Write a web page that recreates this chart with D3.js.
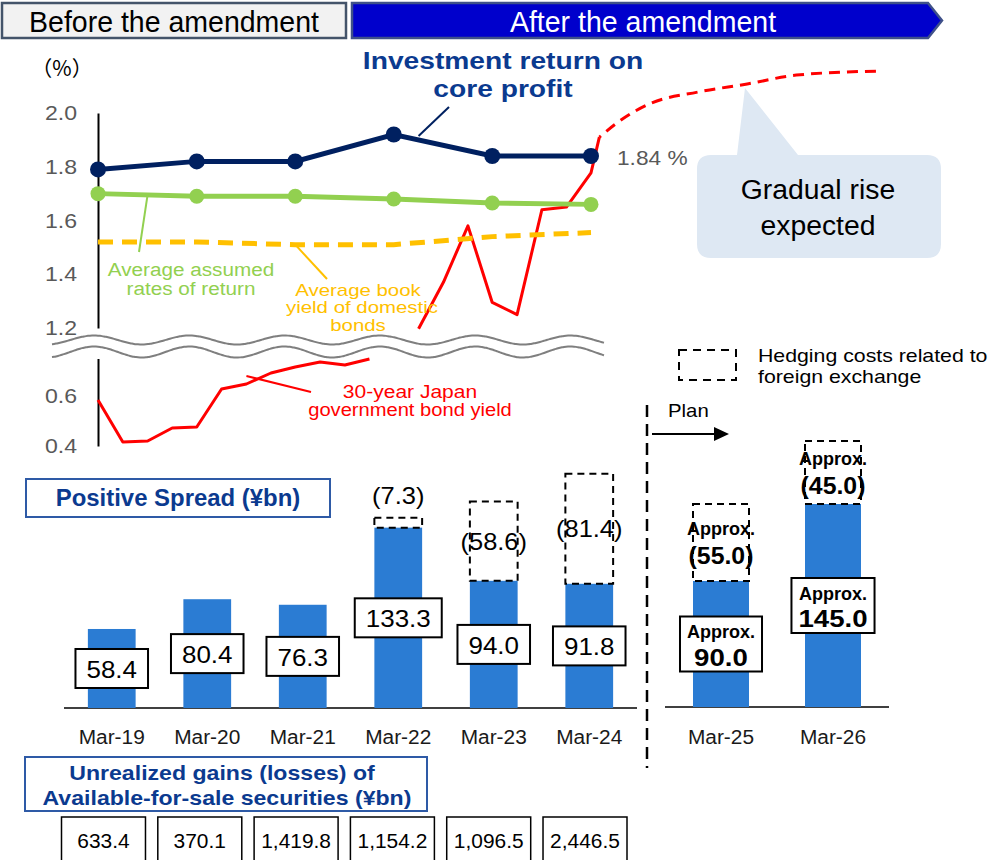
<!DOCTYPE html>
<html>
<head>
<meta charset="utf-8">
<script src="https://cdn.jsdelivr.net/npm/d3@7"></script>
<style>
  html, body { margin: 0; padding: 0; background: #fff; }
  svg { display: block; font-family: Arial, "Liberation Sans", sans-serif; }
</style>
</head>
<body>
<svg id="chart" width="992" height="860"></svg>
<script>
// ---------- data ----------
const fiscalMonths = ["2019-03", "2020-03", "2021-03", "2022-03", "2023-03", "2024-03"];
const yearLabels = ["Mar-19", "Mar-20", "Mar-21", "Mar-22", "Mar-23", "Mar-24"];
const planLabels = ["Mar-25", "Mar-26"];

// yields (%)
const coreReturn  = [1.79, 1.82, 1.82, 1.92, 1.84, 1.84];
const assumedRate = [1.70, 1.69, 1.69, 1.68, 1.665, 1.66];
const bookYield   = [1.52, 1.52, 1.51, 1.51, 1.54, 1.555];

// 30-year JGB yield; the quarter that falls inside the axis break is left out
const jgbMonths = ["2019-03", "2019-06", "2019-09", "2019-12", "2020-03", "2020-06", "2020-09",
  "2020-12", "2021-03", "2021-06", "2021-09", "2021-12", "2022-03", "2022-06", "2022-09",
  "2022-12", "2023-03", "2023-06", "2023-09", "2023-12", "2024-03", "2024-04"];
const jgb30 = [0.584, 0.416, 0.42, 0.472, 0.476, 0.628, 0.648, 0.692, 0.716, 0.736, 0.724,
  0.748, null, 1.19, 1.37, 1.58, 1.295, 1.25, 1.64, 1.65, 1.777, 1.91];

// expected path of the 30-year yield
const outlookMonths = ["2024-04", "2024-06", "2024-10", "2025-04", "2025-10", "2026-04", "2027-02"];
const outlook = [1.91, 1.96, 2.033, 2.078, 2.108, 2.141, 2.156];

const upperTicks = [1.2, 1.4, 1.6, 1.8, 2.0];
const lowerTicks = [0.4, 0.6];

// positive spread (¥bn)
const spread    = [58.4, 80.4, 76.3, 133.3, 94.0, 91.8];
const hedgeCost = [null, null, null, 7.3, 58.6, 81.4];
const planSpread = [90.0, 145.0];
const planHedge  = [55.0, 45.0];

// unrealized gains (losses) of available-for-sale securities (¥bn)
const unrealized = [633.4, 370.1, 1419.8, 1154.2, 1096.5, 2446.5];

// ---------- helpers ----------
const svg = d3.select("#chart");
const parseM = d3.timeParse("%Y-%m");
const NAVY = "#002060", GREEN = "#92D050", GOLD = "#FFC000", RED = "#FF0000";
const TITLE_BLUE = "#0b3a8f", BAR = "#2B7CD3";

function txt(sel, x, y, str, o = {}) {
  const t = sel.append("text")
    .attr("x", x).attr("y", y)
    .attr("font-size", o.size || 18)
    .attr("fill", o.fill || "#000")
    .attr("text-anchor", o.anchor || "middle")
    .attr("dominant-baseline", "central")
    .text(str);
  if (o.weight) t.attr("font-weight", o.weight);
  if (o.family) t.attr("font-family", o.family);
  if (o.sx) stretch(t, o.sx);
  return t;
}
// widen/narrow a text run horizontally
function stretch(t, sx) {
  t.each(function () {
    const w = this.getComputedTextLength();
    d3.select(this).attr("textLength", w * sx).attr("lengthAdjust", "spacingAndGlyphs");
  });
}
function textWidth(t) {
  const n = t.node();
  const tl = n.getAttribute("textLength");
  return tl ? +tl : n.getComputedTextLength();
}

// ---------- header ----------
const header = svg.append("g");
header.append("rect").attr("x", 2).attr("y", 3).attr("width", 344).attr("height", 35)
  .attr("fill", "#F2F2F2").attr("stroke", "#44546A").attr("stroke-width", 2.5);
txt(header, 174, 21.5, "Before the amendment", { size: 30, sx: 0.95 });
header.append("path")
  .attr("d", "M352,3 L928,3 L942,20.5 L928,38 L352,38 Z")
  .attr("fill", "#0000CC").attr("stroke", "#3F5189").attr("stroke-width", 2.5);
txt(header, 643, 21.5, "After the amendment", { size: 30, fill: "#fff", sx: 0.95 });

// ---------- yield chart ----------
const x = d3.scaleTime()
  .domain([parseM(fiscalMonths[0]), parseM(fiscalMonths[5])])
  .range([98, 591]);
// broken axis: lower 0.4–0.75 and upper 1.2–2.0 on one piecewise scale
const y = d3.scaleLinear()
  .domain([0.4, 0.75, 1.2, 2.0])
  .range([446, 358.5, 328, 113]);

const yieldG = svg.append("g");

// axes
function styleAxis(g) {
  g.select(".domain").attr("stroke", "#000").attr("stroke-width", 2);
  g.selectAll(".tick text").attr("font-size", 21).attr("fill", "#595959")
    .attr("font-family", "Arial, 'Liberation Sans', sans-serif")
    .each(function () { stretch(d3.select(this), 1.1); });
}
yieldG.append("g").attr("transform", "translate(98,0)")
  .call(d3.axisLeft(d3.scaleLinear().domain([1.2, 2.0]).range([y(1.2), y(2.0)]))
    .tickValues(upperTicks).tickSize(0).tickSizeOuter(0).tickPadding(21).tickFormat(d3.format(".1f")))
  .call(styleAxis);
yieldG.append("g").attr("transform", "translate(98,0)")
  .call(d3.axisLeft(d3.scaleLinear().domain([0.4, 0.75]).range([y(0.4), y(0.75)]))
    .tickValues(lowerTicks).tickSize(0).tickSizeOuter(0).tickPadding(21).tickFormat(d3.format(".1f")))
  .call(styleAxis);

txt(yieldG, 62, 67, "（%）", { size: 21, fill: "#000", family: "'Noto Sans CJK JP', Arial, sans-serif" });

const annual = fiscalMonths.map(parseM);
const lineGen = d3.line().x(d => x(d[0])).y(d => y(d[1]));

// 30-year JGB (two runs, one on each side of the break)
yieldG.append("path")
  .datum(jgbMonths.map((m, i) => [parseM(m), jgb30[i]]))
  .attr("d", d3.line().defined(d => d[1] != null).x(d => x(d[0])).y(d => y(d[1])))
  .attr("fill", "none").attr("stroke", RED).attr("stroke-width", 3)
  .attr("stroke-linejoin", "round");
yieldG.append("path")
  .datum(outlookMonths.map((m, i) => [parseM(m), outlook[i]]))
  .attr("d", d3.line().x(d => x(d[0])).y(d => y(d[1])).curve(d3.curveMonotoneX))
  .attr("fill", "none").attr("stroke", RED).attr("stroke-width", 3)
  .attr("stroke-dasharray", "11,7").attr("stroke-dashoffset", -9);

// book yield (dashed)
yieldG.append("path")
  .datum(annual.map((d, i) => [d, bookYield[i]]))
  .attr("d", lineGen).attr("fill", "none").attr("stroke", GOLD).attr("stroke-width", 5)
  .attr("stroke-dasharray", "15,9");

// assumed rates
yieldG.append("path")
  .datum(annual.map((d, i) => [d, assumedRate[i]]))
  .attr("d", lineGen).attr("fill", "none").attr("stroke", GREEN).attr("stroke-width", 5);
yieldG.selectAll(".gdot").data(assumedRate).join("circle")
  .attr("cx", (d, i) => x(annual[i])).attr("cy", d => y(d)).attr("r", 7.5).attr("fill", GREEN);

// core return
yieldG.append("path")
  .datum(annual.map((d, i) => [d, coreReturn[i]]))
  .attr("d", lineGen).attr("fill", "none").attr("stroke", NAVY).attr("stroke-width", 5);
yieldG.selectAll(".ndot").data(coreReturn).join("circle")
  .attr("cx", (d, i) => x(annual[i])).attr("cy", d => y(d)).attr("r", 8).attr("fill", NAVY);

txt(yieldG, x(annual[5]) + 26, y(coreReturn[5]) + 1, d3.format(".2f")(coreReturn[5]) + " %",
  { size: 21, fill: "#595959", anchor: "start", sx: 1.08 });

// scale-break band
const wavePts = d3.range(52, 606, 2);
const phase = xx => Math.cos(2 * Math.PI * (xx - 94) / 95.3);
const topWave = wavePts.map(xx => [xx, 340 - 4.5 * phase(xx)]);
const botWave = wavePts.map(xx => [xx, 352 - 5.5 * phase(xx)]);
const line2 = d3.line().curve(d3.curveBasis);
yieldG.append("path")
  .attr("d", line2(topWave) + "L" + botWave.slice().reverse().map(p => p.join(",")).join("L") + "Z")
  .attr("fill", "#fff");
yieldG.append("path").attr("d", line2(topWave)).attr("fill", "none").attr("stroke", "#7F7F7F").attr("stroke-width", 2);
yieldG.append("path").attr("d", line2(botWave)).attr("fill", "none").attr("stroke", "#7F7F7F").attr("stroke-width", 2);

// series annotations
txt(yieldG, 503, 60, "Investment return on", { size: 24.5, weight: "bold", fill: TITLE_BLUE, sx: 1.15 });
txt(yieldG, 503, 88, "core profit", { size: 24.5, weight: "bold", fill: TITLE_BLUE, sx: 1.15 });
yieldG.append("line").attr("x1", 449).attr("y1", 107).attr("x2", x(parseM("2022-06"))).attr("y2", 136)
  .attr("stroke", NAVY).attr("stroke-width", 2);

yieldG.append("line").attr("x1", x(parseM("2019-09"))).attr("y1", y(1.697)).attr("x2", 139).attr("y2", 252)
  .attr("stroke", GREEN).attr("stroke-width", 2);
txt(yieldG, 191, 270, "Average assumed", { size: 18, fill: GREEN, sx: 1.15 });
txt(yieldG, 191, 289, "rates of return", { size: 18, fill: GREEN, sx: 1.15 });

yieldG.append("line").attr("x1", x(parseM("2021-03"))).attr("y1", y(1.51)).attr("x2", 327).attr("y2", 279)
  .attr("stroke", GOLD).attr("stroke-width", 2);
txt(yieldG, 358, 290, "Average book", { size: 17, fill: GOLD, sx: 1.2 });
txt(yieldG, 362, 307.5, "yield of domestic", { size: 17, fill: GOLD, sx: 1.2 });
txt(yieldG, 358, 325, "bonds", { size: 17, fill: GOLD, sx: 1.2 });

yieldG.append("line").attr("x1", x(parseM("2020-09"))).attr("y1", y(0.68)).attr("x2", 311).attr("y2", 392)
  .attr("stroke", RED).attr("stroke-width", 2);
txt(yieldG, 410, 392, "30-year Japan", { size: 17.5, fill: RED, sx: 1.2 });
txt(yieldG, 410, 410, "government bond yield", { size: 17.5, fill: RED, sx: 1.15 });

// callout
const cb = { x0: 697, x1: 941, y0: 155, y1: 258, r: 14 };
yieldG.append("path")
  .attr("d", `M${cb.x0 + cb.r},${cb.y0} L737,${cb.y0} L745,88 L798,${cb.y0} L${cb.x1 - cb.r},${cb.y0}
    Q${cb.x1},${cb.y0} ${cb.x1},${cb.y0 + cb.r} L${cb.x1},${cb.y1 - cb.r}
    Q${cb.x1},${cb.y1} ${cb.x1 - cb.r},${cb.y1} L${cb.x0 + cb.r},${cb.y1}
    Q${cb.x0},${cb.y1} ${cb.x0},${cb.y1 - cb.r} L${cb.x0},${cb.y0 + cb.r}
    Q${cb.x0},${cb.y0} ${cb.x0 + cb.r},${cb.y0} Z`)
  .attr("fill", "#DEE8F3");
txt(yieldG, 818, 190, "Gradual rise", { size: 27, fill: "#000", sx: 1.05 });
txt(yieldG, 818, 226, "expected", { size: 27, fill: "#000", sx: 1.05 });

// ---------- spread bars ----------
const barG = svg.append("g");
const bx = d3.scaleBand().domain(yearLabels).range([64, 637]).paddingInner(0.5).paddingOuter(0.25);
const by = d3.scaleLinear().domain([0, 100]).range([708, 572.7]);
const px = d3.scaleBand().domain(planLabels).range([665, 889]).paddingInner(0.5).paddingOuter(0.25);
const py = d3.scaleLinear().domain([0, 100]).range([707, 567]);

// title box
barG.append("rect").attr("x", 26).attr("y", 479).attr("width", 304).attr("height", 38)
  .attr("fill", "#fff").attr("stroke", "#2E5AA6").attr("stroke-width", 2);
txt(barG, 178, 498, "Positive Spread (¥bn)", { size: 23, weight: "bold", fill: TITLE_BLUE, sx: 1.04 });

// legend
barG.append("rect").attr("x", 679).attr("y", 350).attr("width", 57).attr("height", 30)
  .attr("fill", "none").attr("stroke", "#000").attr("stroke-width", 2).attr("stroke-dasharray", "8,6");
txt(barG, 758, 355, "Hedging costs related to", { size: 18.5, anchor: "start", sx: 1.15 });
txt(barG, 758, 376, "foreign exchange", { size: 18.5, anchor: "start", sx: 1.15 });

// plan divider
barG.append("line").attr("x1", 647).attr("y1", 405).attr("x2", 647).attr("y2", 768)
  .attr("stroke", "#000").attr("stroke-width", 2.5).attr("stroke-dasharray", "12,7");
txt(barG, 668, 410, "Plan", { size: 18.5, anchor: "start", sx: 1.1 });
barG.append("line").attr("x1", 652).attr("y1", 434).attr("x2", 716).attr("y2", 434)
  .attr("stroke", "#000").attr("stroke-width", 2);
barG.append("path").attr("d", "M714,427 L729,434 L714,441 Z").attr("fill", "#000");

// baselines
barG.append("line").attr("x1", 64).attr("x2", 637).attr("y1", by(0)).attr("y2", by(0))
  .attr("stroke", "#404040").attr("stroke-width", 2);
barG.append("line").attr("x1", 665).attr("x2", 889).attr("y1", py(0)).attr("y2", py(0))
  .attr("stroke", "#404040").attr("stroke-width", 2);

// actual bars
barG.selectAll(".bar").data(spread).join("rect")
  .attr("x", (d, i) => bx(yearLabels[i])).attr("width", bx.bandwidth())
  .attr("y", d => by(d)).attr("height", d => by(0) - by(d)).attr("fill", BAR);

hedgeCost.forEach((h, i) => {
  if (h == null) return;
  const x0 = bx(yearLabels[i]), y0 = by(spread[i] + h), y1 = by(spread[i]);
  barG.append("rect").attr("x", x0).attr("y", y0).attr("width", bx.bandwidth()).attr("height", y1 - y0)
    .attr("fill", "none").attr("stroke", "#000").attr("stroke-width", 2).attr("stroke-dasharray", "7,5");
  const cx = x0 + bx.bandwidth() / 2;
  const ly = (y1 - y0) > 30 ? (y0 + y1) / 2 : y0 - 22;
  txt(barG, cx, ly, `(${d3.format(".1f")(h)})`, { size: 24, sx: 1.06 });
});

spread.forEach((v, i) => {
  const cx = bx(yearLabels[i]) + bx.bandwidth() / 2;
  const cy = (by(0) + by(v)) / 2;
  const g = barG.append("g");
  const rect = g.append("rect");
  const t = txt(g, cx, cy + 1, d3.format(".1f")(v), { size: 24.5, sx: 1.06 });
  const w = textWidth(t) + 22;
  rect.attr("x", cx - w / 2).attr("y", cy - 19.5).attr("width", w).attr("height", 39)
    .attr("fill", "#fff").attr("stroke", "#000").attr("stroke-width", 2);
});

// plan bars
barG.selectAll(".pbar").data(planSpread).join("rect")
  .attr("x", (d, i) => px(planLabels[i])).attr("width", px.bandwidth())
  .attr("y", d => py(d)).attr("height", d => py(0) - py(d)).attr("fill", BAR);

planHedge.forEach((h, i) => {
  const x0 = px(planLabels[i]), y0 = py(planSpread[i] + h), y1 = py(planSpread[i]);
  barG.append("rect").attr("x", x0).attr("y", y0).attr("width", px.bandwidth()).attr("height", y1 - y0)
    .attr("fill", "none").attr("stroke", "#000").attr("stroke-width", 2).attr("stroke-dasharray", "7,5");
  const cx = x0 + px.bandwidth() / 2, mid = (y0 + y1) / 2;
  txt(barG, cx, mid - 14, "Approx.", { size: 18, weight: "bold" });
  txt(barG, cx, mid + 13, `(${d3.format(".1f")(h)})`, { size: 23, weight: "bold", sx: 1.08 });
});

planSpread.forEach((v, i) => {
  const cx = px(planLabels[i]) + px.bandwidth() / 2;
  const cy = (py(0) + py(v)) / 2;
  const g = barG.append("g");
  const rect = g.append("rect");
  const t1 = txt(g, cx, cy - 12, "Approx.", { size: 18, weight: "bold" });
  const t2 = txt(g, cx, cy + 13, d3.format(".1f")(v), { size: 24, weight: "bold", sx: 1.15 });
  const w = Math.max(textWidth(t1), textWidth(t2)) + 14;
  rect.attr("x", cx - w / 2).attr("y", cy - 27.5).attr("width", w).attr("height", 55)
    .attr("fill", "#fff").attr("stroke", "#000").attr("stroke-width", 2);
});

// category labels
yearLabels.forEach(l => txt(barG, bx(l) + bx.bandwidth() / 2, 737, l, { size: 19.5, fill: "#1a1a1a", sx: 1.07 }));
planLabels.forEach(l => txt(barG, px(l) + px.bandwidth() / 2, 737, l, { size: 19.5, fill: "#1a1a1a", sx: 1.07 }));

// ---------- unrealized gains table ----------
barG.append("rect").attr("x", 25).attr("y", 757).attr("width", 402).attr("height", 54)
  .attr("fill", "#fff").attr("stroke", "#2E5AA6").attr("stroke-width", 2);
txt(barG, 222, 772, "Unrealized gains (losses) of", { size: 21, weight: "bold", fill: TITLE_BLUE, sx: 1.1 });
txt(barG, 227, 797, "Available-for-sale securities (¥bn)", { size: 21, weight: "bold", fill: TITLE_BLUE, sx: 1.1 });

const tx = d3.scaleBand().domain(yearLabels).range([61.5, 627]).paddingInner(0.128).paddingOuter(0);
unrealized.forEach((v, i) => {
  const x0 = tx(yearLabels[i]);
  barG.append("rect").attr("x", x0).attr("y", 817).attr("width", tx.bandwidth()).attr("height", 46)
    .attr("fill", "#fff").attr("stroke", "#000").attr("stroke-width", 1.5);
  txt(barG, x0 + tx.bandwidth() / 2, 840, d3.format(",.1f")(v), { size: 20.5, sx: 1.02 });
});
</script>
</body>
</html>
